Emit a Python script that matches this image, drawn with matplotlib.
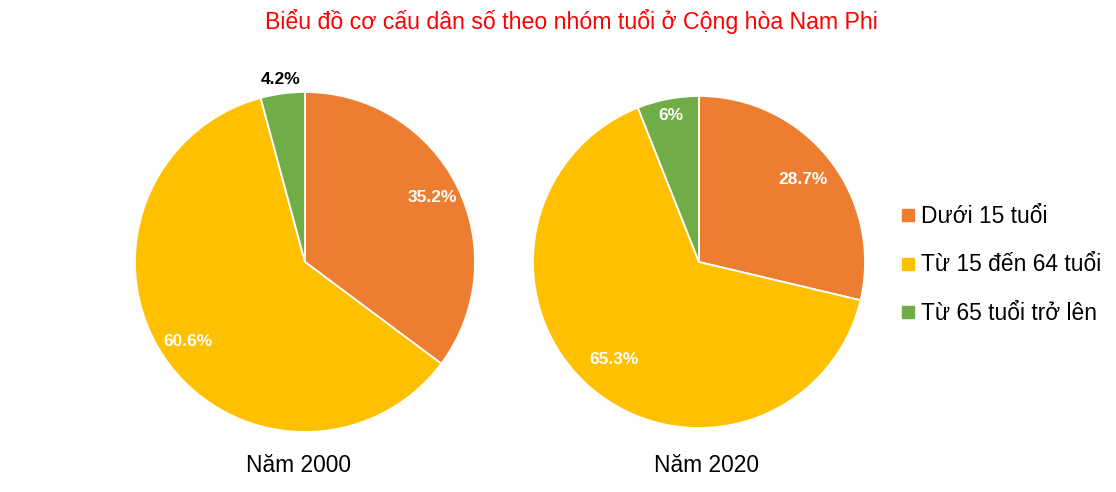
import numpy as np
import matplotlib
matplotlib.use('Agg')
import matplotlib.pyplot as plt
from matplotlib.lines import Line2D

plt.rcParams['font.family'] = ['Liberation Sans', 'DejaVu Sans']

# Dữ liệu
nhom_tuoi = ['Dưới 15 tuổi', 'Từ 15 đến 64 tuổi', 'Từ 65 tuổi trở lên']
mau = ['#ED7D31', '#FFC000', '#70AD47']
nam_2000 = [35.2, 60.6, 4.2]
nam_2020 = [28.7, 65.3, 6]
nhan_nam = ['Năm 2000', 'Năm 2020']
nhan_2000 = ['35.2%', '60.6%', '4.2%']
nhan_2020 = ['28.7%', '65.3%', '6%']

W, H = 1116, 492
fig = plt.figure(figsize=(W / 100, H / 100), dpi=100)


def ve_pie(cx, cy, r, values, labels, dist, colors_txt, tieu_de, x_tieu_de):
    ax = fig.add_axes([(cx - r) / W, (H - cy - r) / H, 2 * r / W, 2 * r / H])
    wedges, _ = ax.pie(values, colors=mau, startangle=90, counterclock=False,
                       radius=1, wedgeprops=dict(edgecolor='white', linewidth=1.3))
    for w, lab, d, c in zip(wedges, labels, dist, colors_txt):
        goc = np.deg2rad((w.theta1 + w.theta2) / 2)
        ax.text(d * np.cos(goc), d * np.sin(goc), lab, ha='center', va='center',
                color=c, fontsize=12.5, fontweight='bold')
    ax.set_xlim(-1, 1)
    ax.set_ylim(-1, 1)
    ax.set_aspect('equal')
    ax.axis('off')
    fig.text(x_tieu_de / W, 1 - 465 / H, tieu_de, ha='center', va='center', fontsize=16.4)


ve_pie(305, 262, 170, nam_2000, nhan_2000, [0.84, 0.83, 1.08], ['white', 'white', 'black'], nhan_nam[0], 298)
ve_pie(699, 262, 166, nam_2020, nhan_2020, [0.8, 0.78, 0.9], ['white', 'white', 'white'], nhan_nam[1], 706)

fig.text(571 / W, 1 - 22 / H, 'Biểu đồ cơ cấu dân số theo nhóm tuổi ở Cộng hòa Nam Phi',
         ha='center', va='center', fontsize=16.7, color='#FF0000')

handles = [Line2D([], [], marker='s', color=c, linestyle='none', markersize=8) for c in mau]
fig.legend(handles, nhom_tuoi, loc='center left', bbox_to_anchor=(891 / W, 1 - 265 / H),
           frameon=False, fontsize=16.4, handlelength=0.5, handletextpad=0.3,
           labelspacing=1.1, borderpad=0)

fig.savefig('out.png', dpi=100)
